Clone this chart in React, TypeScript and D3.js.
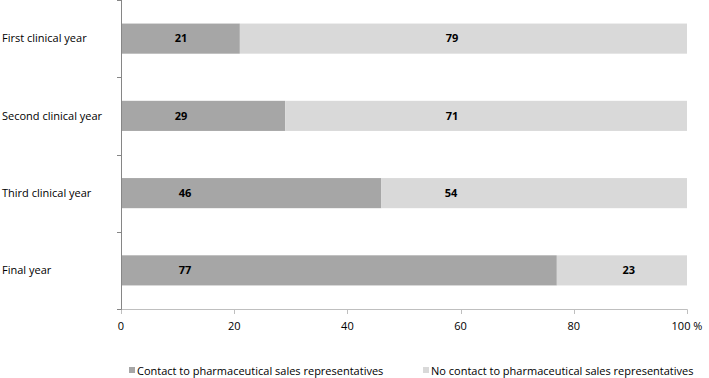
import React from "react";
import * as d3 from "d3";

const categories = ["First clinical year", "Second clinical year", "Third clinical year", "Final year"];
const contact = [21, 29, 46, 77];
const noContact = [79, 71, 54, 23];
// where the value labels sit, in percent along the axis (as in the original)
const contactLabelAt = [10.6, 10.6, 11.3, 11.3];
const noContactLabelAt = [58.5, 58.5, 58.3, 89.7];
const seriesNames = ["Contact to pharmaceutical sales representatives", "No contact to pharmaceutical sales representatives"];
const xTicks = [0, 20, 40, 60, 80, 100];

const W = 709, H = 378;
const FONT = "'Open Sans', 'Liberation Sans', sans-serif";

export default function App() {
  const x = d3.scaleLinear().domain([0, 100]).range([121, 687]);
  const y = d3.scaleBand().domain(categories).range([0, 309]).paddingInner(0.61).paddingOuter(0.305);
  const yTicks = d3.range(categories.length + 1).map(i => (309 / categories.length) * i);
  const colors = ["#a6a6a6", "#d9d9d9"];
  const yAxisColor = "#868686";
  const xAxisColor = "#bfbfbf";
  return (
    <div style={{ position: "absolute", left: 0, top: 0 }}>
      <svg width={W} height={H} style={{ display: "block", background: "#fff" }}>
        {categories.map((c, i) => {
          const y0 = y(c)!;
          const bh = y.bandwidth();
          const a = contact[i], b = noContact[i];
          return (
            <g key={c}>
              <rect x={x(0)} y={y0} width={x(a) - x(0)} height={bh} fill={colors[0]} />
              <rect x={x(a)} y={y0} width={x(a + b) - x(a)} height={bh} fill={colors[1]} />
              <text x={x(contactLabelAt[i])} y={y0 + bh / 2} dy="0.35em" textAnchor="middle" fontFamily={FONT} fontSize={11} fontWeight="bold" fill="#000">{a}</text>
              <text x={x(noContactLabelAt[i])} y={y0 + bh / 2} dy="0.35em" textAnchor="middle" fontFamily={FONT} fontSize={11} fontWeight="bold" fill="#000">{b}</text>
              <text x={2} y={y0 + bh / 2} dy="0.35em" textAnchor="start" fontFamily={FONT} fontSize={11} fill="#000">{c}</text>
            </g>
          );
        })}
        <line x1={117} x2={687.5} y1={309.5} y2={309.5} stroke={xAxisColor} />
        {xTicks.map(t => (
          <g key={t}>
            <line x1={Math.round(x(t)) + 0.5} x2={Math.round(x(t)) + 0.5} y1={309.5} y2={314} stroke={xAxisColor} />
            <text x={x(t)} y={326} dy="0.35em" textAnchor="middle" fontFamily={FONT} fontSize={11} fill="#000">{t === 100 ? "100 %" : t}</text>
          </g>
        ))}
        <line x1={121.5} x2={121.5} y1={0} y2={309.5} stroke={yAxisColor} />
        {yTicks.map((t, i) => (
          <line key={i} x1={117} x2={121.5} y1={Math.round(t) + 0.5} y2={Math.round(t) + 0.5} stroke={yAxisColor} />
        ))}
        {seriesNames.map((s, i) => {
          const lx = i === 0 ? 129 : 423;
          return (
            <g key={s}>
              <rect x={lx} y={367} width={6} height={6} fill={colors[i]} />
              <text x={lx + 8} y={371} dy="0.35em" fontFamily={FONT} fontSize={11} fill="#000">{s}</text>
            </g>
          );
        })}
      </svg>
    </div>
  );
}
